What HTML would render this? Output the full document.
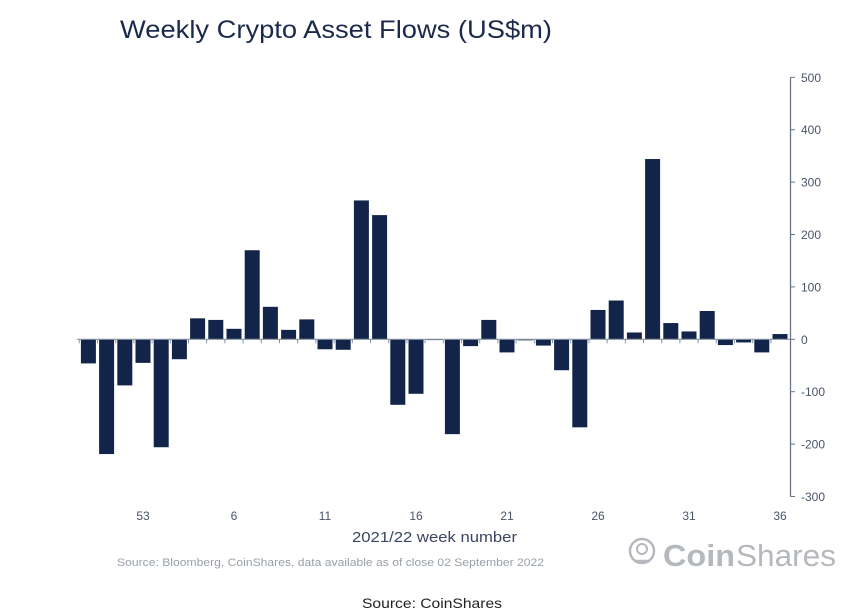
<!DOCTYPE html>
<html><head><meta charset="utf-8"><style>
html,body{margin:0;padding:0;background:#fff;}
svg{display:block;font-family:"Liberation Sans",sans-serif;}
</style></head><body>
<svg id="chart" width="846" height="616" viewBox="0 0 846 616">
<text x="120" y="38" font-size="25" fill="#1b2a4c" textLength="432" lengthAdjust="spacingAndGlyphs">Weekly Crypto Asset Flows (US$m)</text>
<g id="bars"></g>
<g id="yaxis"></g>
<g id="xaxis"></g>
<text x="352" y="542" font-size="15" fill="#3a4560" textLength="165" lengthAdjust="spacingAndGlyphs">2021/22 week number</text>
<text x="117" y="566" font-size="11" fill="#9aa0a8" textLength="427" lengthAdjust="spacingAndGlyphs">Source: Bloomberg, CoinShares, data available as of close 02 September 2022</text>
<g>
<circle cx="642" cy="551" r="12" fill="none" stroke="#b5b8bd" stroke-width="2.5"/>
<circle cx="642" cy="549" r="5" fill="none" stroke="#b5b8bd" stroke-width="2"/>
<line x1="634" y1="561" x2="650" y2="561" stroke="#b5b8bd" stroke-width="2.5"/>
<text x="663" y="566" font-size="31" fill="#b5b8bd" font-weight="bold" textLength="72" lengthAdjust="spacingAndGlyphs">Coin</text>
<text x="736" y="566" font-size="31" fill="#b5b8bd" textLength="100" lengthAdjust="spacingAndGlyphs">Shares</text>
</g>
<text x="362" y="608" font-size="14" fill="#222" textLength="140" lengthAdjust="spacingAndGlyphs">Source: CoinShares</text>
</svg>
<script>
const weekLabels = ["50","51","52","53","2","3","4","5","6","7","8","9","10","11","12","13","14","15","16","17","18","19","20","21","22","23","24","25","26","27","28","29","30","31","32","33","34","35","36"];
const shownLabels = ["53","6","11","16","21","26","31","36"];
const flows = [-46,-219,-88,-45,-206,-38,40,37,20,170,62,18,38,-19,-20,265,237,-125,-104,-1,-181,-13,37,-25,-2,-12,-59,-168,56,74,13,344,31,15,54,-11,-6,-25,10];
const yTicks = [500,400,300,200,100,0,-100,-200,-300];

const NS="http://www.w3.org/2000/svg";
const y0=339.3, pxPer=0.524;
function yScale(v){return y0 - v*pxPer;}
const x0=88.4, pitch=18.2, bw=15;
function xScale(i){return x0 + i*pitch;}
const bars=document.getElementById('bars');
const xaxis=document.getElementById('xaxis');
const yaxis=document.getElementById('yaxis');

const zl=document.createElementNS(NS,'line');


zl.setAttribute('x1',77);zl.setAttribute('x2',790);zl.setAttribute('y1',yScale(0));zl.setAttribute('y2',yScale(0));
zl.setAttribute('stroke','#8a93a3');zl.setAttribute('stroke-width','1.2');
xaxis.appendChild(zl);

flows.forEach((v,i)=>{
  const r=document.createElementNS(NS,'rect');
  
  
  const cx=xScale(i);
  r.setAttribute('x',cx-bw/2);
  r.setAttribute('width',bw);
  r.setAttribute('y',Math.min(yScale(v),yScale(0)));
  r.setAttribute('height',Math.max(Math.abs(yScale(v)-yScale(0)),0.8));
  r.setAttribute('fill','#13244a');
  bars.appendChild(r);
  const t=document.createElementNS(NS,'line');
  
  
  const tx=cx-pitch/2;
  t.setAttribute('x1',tx);t.setAttribute('x2',tx);t.setAttribute('y1',yScale(0));t.setAttribute('y2',yScale(0)+4);
  t.setAttribute('stroke','#8a93a3');
  xaxis.appendChild(t);
  if(shownLabels.includes(weekLabels[i])){
    const l=document.createElementNS(NS,'text');
    
    
    l.setAttribute('x',cx);l.setAttribute('y',520);
    l.setAttribute('text-anchor','middle');l.setAttribute('font-size','12');l.setAttribute('fill','#4a5468');
    l.textContent=weekLabels[i];
    xaxis.appendChild(l);
  }
});

const ax=document.createElementNS(NS,'line');


ax.setAttribute('x1',790.5);ax.setAttribute('x2',790.5);ax.setAttribute('y1',yScale(500));ax.setAttribute('y2',yScale(-300));
ax.setAttribute('stroke','#6d7688');ax.setAttribute('stroke-width','1.3');
yaxis.appendChild(ax);
yTicks.forEach(v=>{
  const t=document.createElementNS(NS,'line');
  
  
  t.setAttribute('x1',790.5);t.setAttribute('x2',795);t.setAttribute('y1',yScale(v));t.setAttribute('y2',yScale(v));
  t.setAttribute('stroke','#6d7688');
  yaxis.appendChild(t);
  const l=document.createElementNS(NS,'text');
  
  
  l.setAttribute('x',801);l.setAttribute('y',yScale(v)+4.5);
  l.setAttribute('font-size','12');l.setAttribute('fill','#4a5468');
  l.textContent=v;
  yaxis.appendChild(l);
});
</script>
</body></html>
